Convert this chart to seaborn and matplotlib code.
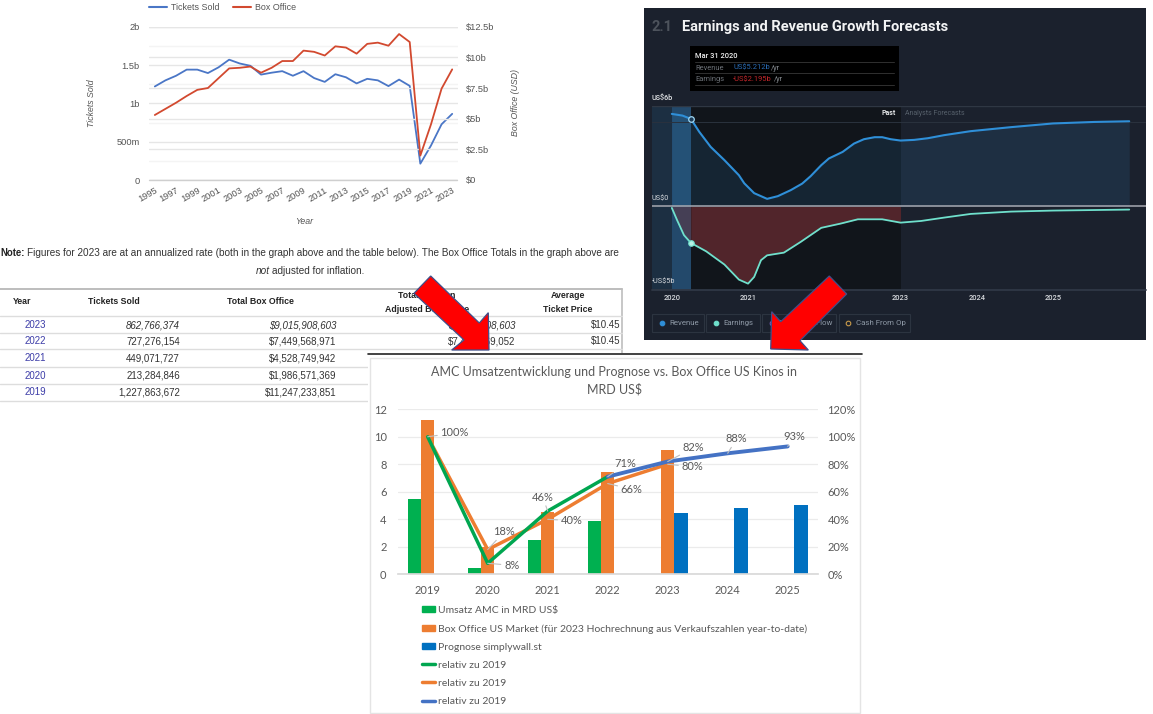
import matplotlib
matplotlib.use("Agg")
import matplotlib.pyplot as plt
import numpy as np
import pandas as pd
import seaborn as sns
from matplotlib.lines import Line2D
from matplotlib.patches import Patch, Polygon, Rectangle
from matplotlib.ticker import FuncFormatter, MultipleLocator

W, H = 1153, 714

# top left chart
ticket_years = list(range(1995, 2024))
tickets_sold = [1.22, 1.30, 1.36, 1.44, 1.44, 1.395, 1.47, 1.57, 1.52, 1.49, 1.375, 1.40, 1.42, 1.36, 1.42,
                1.33, 1.28, 1.38, 1.34, 1.26, 1.32, 1.30, 1.225, 1.31, 1.228, 0.213, 0.449, 0.727, 0.863]
box_office = [5.3, 5.8, 6.3, 6.85, 7.35, 7.5, 8.3, 9.1, 9.15, 9.25, 8.75, 9.15, 9.7, 9.7, 10.55,
              10.45, 10.15, 10.9, 10.8, 10.3, 11.1, 11.2, 10.95, 11.9, 11.25, 1.99, 4.53, 7.45, 9.02]

# table
table_years = ["2023", "2022", "2021", "2020", "2019"]
table_tickets = ["862,766,374", "727,276,154", "449,071,727", "213,284,846", "1,227,863,672"]
table_total = ["$9,015,908,603", "$7,449,568,971", "$4,528,749,942", "$1,986,571,369", "$11,247,233,851"]
table_adjusted = ["$9,015,908,603", "$7,449,569,052"]
table_price = ["$10.45", "$10.45"]

# forecast panel
rev_x = [2020.0, 2020.14, 2020.25, 2020.36, 2020.51, 2020.69, 2020.88, 2020.95, 2021.08, 2021.25, 2021.39, 2021.56,
         2021.71, 2021.82, 2021.96, 2022.06, 2022.24, 2022.39, 2022.52, 2022.66, 2022.76, 2022.87, 2023.0, 2023.18,
         2023.36, 2023.57, 2023.92, 2024.45, 2025.0, 2025.54, 2026.0]
rev_y = [5.51, 5.41, 5.21, 4.44, 3.54, 2.75, 1.85, 1.37, 0.78, 0.44, 0.6, 0.96, 1.35, 1.79, 2.45, 2.85, 3.24, 3.74,
         4.0, 4.12, 4.12, 4.0, 3.92, 3.96, 4.06, 4.24, 4.48, 4.72, 4.94, 5.03, 5.07]
earn_x = [2020.0, 2020.07, 2020.16, 2020.25, 2020.45, 2020.69, 2020.88, 2021.0, 2021.08, 2021.17, 2021.25, 2021.47,
          2021.69, 2021.96, 2022.22, 2022.44, 2022.76, 2023.0, 2023.27, 2023.57, 2023.92, 2024.45, 2025.0, 2026.0]
earn_y = [-0.1, -0.84, -1.73, -2.19, -2.69, -3.48, -4.38, -4.62, -4.22, -3.22, -2.93, -2.77, -2.13, -1.29, -1.03,
          -0.78, -0.78, -0.98, -0.88, -0.68, -0.46, -0.32, -0.26, -0.2]
panel_years = [2020, 2021, 2023, 2024, 2025]

# excel chart
amc_years = ["2019", "2020", "2021", "2022", "2023", "2024", "2025"]
umsatz_amc = [5.47, 0.45, 2.53, 3.9, np.nan, np.nan, np.nan]
box_market = [11.25, 1.99, 4.53, 7.45, 9.02, np.nan, np.nan]
prognose = [np.nan, np.nan, np.nan, np.nan, 4.45, 4.8, 5.05]
rel_amc = [100, 8, 46, 71]
rel_box = [100, 18, 40, 66, 80]
rel_prog = [71, 82, 88, 93]
bar_names = ["Umsatz AMC in MRD US$",
             "Box Office US Market (für 2023 Hochrechnung aus Verkaufszahlen year-to-date)",
             "Prognose simplywall.st"]
line_name = "relativ zu 2019"

sns.set_theme(style="white")
plt.rcParams["font.family"] = ["Liberation Sans", "DejaVu Sans"]

fig = plt.figure(figsize=(W / 100, H / 100), dpi=100, facecolor="white")


def px_axes(x0, y0, x1, y1, z):
    ax = fig.add_axes([x0 / W, 1 - y1 / H, (x1 - x0) / W, (y1 - y0) / H], zorder=z)
    ax.patch.set_visible(False)
    return ax


def overlay(z):
    ax = px_axes(0, 0, W, H, z)
    ax.set_xlim(0, W)
    ax.set_ylim(H, 0)
    ax.axis("off")
    return ax


page = overlay(0)
top = overlay(8)

# ---- top left: tickets vs box office ----
ax1 = px_axes(149.5, 26.7, 457.5, 180, 2)
sns.lineplot(x=ticket_years, y=tickets_sold, color="#4a76c6", linewidth=1.3, ax=ax1)
ax1.set_xlim(1994.5, 2023.5)
ax1.set_ylim(0, 2)
ax1.set_xticks(ticket_years[::2])
ax1.set_xticklabels(ticket_years[::2], rotation=30, ha="right", rotation_mode="anchor")
ax1.set_yticks([0, 0.5, 1, 1.5, 2], ["0", "500m", "1b", "1.5b", "2b"])
ax1.yaxis.set_minor_locator(MultipleLocator(0.25))
ax1.grid(axis="y", which="major", color="#e6e6e6", linewidth=1)
ax1.grid(axis="y", which="minor", color="#f4f4f4", linewidth=1)
ax1.tick_params(axis="both", which="both", length=0, labelsize=6.7, labelcolor="#555555", pad=7)
ax1.tick_params(axis="x", pad=4)
ax1.set_xlabel("Year", fontsize=6.3, style="italic", color="#555555")
ax1.set_ylabel("Tickets Sold", fontsize=6.3, style="italic", color="#555555", va="center")
ax1.xaxis.set_label_coords(304, 216.5, transform=page.transData)
ax1.yaxis.set_label_coords(92, 102.7, transform=page.transData)
for s in ax1.spines.values():
    s.set_visible(False)

ax1b = ax1.twinx()
ax1b.patch.set_visible(False)
sns.lineplot(x=ticket_years, y=box_office, color="#d2492f", linewidth=1.3, ax=ax1b)
ax1b.set_ylim(0, 12.5)
ax1b.set_yticks([0, 2.5, 5, 7.5, 10, 12.5], ["$0", "$2.5b", "$5b", "$7.5b", "$10b", "$12.5b"])
ax1b.grid(axis="y", color="#e6e6e6", linewidth=1)
ax1b.set_axisbelow(True)
ax1b.tick_params(axis="y", length=0, labelsize=6.7, labelcolor="#555555", pad=6)
ax1b.set_ylabel("Box Office (USD)", fontsize=6.3, style="italic", color="#555555", va="center")
ax1b.yaxis.set_label_coords(515, 103, transform=page.transData)
for s in ax1b.spines.values():
    s.set_visible(False)
ax1.plot([1994.5, 2023.5], [0, 0], color="#cfcfcf", linewidth=1, clip_on=False)
leg1 = top.legend(handles=[Line2D([], [], color="#4a76c6", linewidth=1.5, label="Tickets Sold"),
                           Line2D([], [], color="#d2492f", linewidth=1.5, label="Box Office")],
                  loc="center left", bbox_to_anchor=(149.3 / W, 1 - 7.3 / H), bbox_transform=fig.transFigure,
                  ncol=2, frameon=False, fontsize=6.4, labelcolor="#555555", borderpad=0, borderaxespad=0,
                  handlelength=1.95, handletextpad=0.45, columnspacing=1.6)
top.add_artist(leg1)

# ---- note and table ----
page.text(0, 253, "Note:", fontsize=6.9, fontweight="bold", color="#222222", va="center")
page.text(27.3, 253, "Figures for 2023 are at an annualized rate (both in the graph above and the table below). "
          "The Box Office Totals in the graph above are", fontsize=7.2, color="#333333", va="center")
page.text(255.4, 271, "not", fontsize=7.2, style="italic", color="#333333", va="center")
page.text(272, 271, "adjusted for inflation.", fontsize=7.2, color="#333333", va="center")

row_lines = [316, 332.7, 349.3, 366.7, 384, 400.7]
row_text = [325, 341.3, 358.3, 375.7, 392.3]
page.plot([0, 622], [289.3, 289.3], color="#bdbdbd", linewidth=1.4)
page.plot([622, 622], [289.3, 353], color="#bdbdbd", linewidth=1.2)
for y in row_lines:
    page.plot([0, 622], [y, y], color="#dddddd", linewidth=1)
for label, cx in [("Year", 22.5), ("Tickets Sold", 114), ("Total Box Office", 260)]:
    page.text(cx, 301.7, label, fontsize=6.3, fontweight="bold", ha="center", va="center", color="#222222")
for label, cx, y in [("Total Inflation", 427, 295), ("Adjusted Box Office", 427, 309.3),
                     ("Average", 568, 295), ("Ticket Price", 568, 309.3)]:
    page.text(cx, y, label, fontsize=6.3, fontweight="bold", ha="center", va="center", color="#222222")
for i, y in enumerate(row_text):
    st = "italic" if i == 0 else "normal"
    page.text(46, y, table_years[i], fontsize=7, color="#3d3da8", ha="right", va="center")
    page.text(180, y, table_tickets[i], fontsize=7, style=st, color="#333333", ha="right", va="center")
    page.text(336.5, y, table_total[i], fontsize=7, style=st, color="#333333", ha="right", va="center")
for i, y in enumerate(row_text[:2]):
    st = "italic" if i == 0 else "normal"
    page.text(515, y, table_adjusted[i], fontsize=7, style=st, color="#333333", ha="right", va="center")
    page.text(620, y, table_price[i], fontsize=7, color="#333333", ha="right", va="center")

# white sheet of the excel chart hides the rest of the table
page.add_patch(Rectangle((368, 353), 494, 361, facecolor="white", edgecolor="none", zorder=5))
page.plot([368, 862], [353.5, 353.5], color="#222222", linewidth=1.2, zorder=6)
page.add_patch(Rectangle((370, 358), 490, 354.7, facecolor="white", edgecolor="#e4e4e4", linewidth=1, zorder=6))

# ---- dark forecast panel ----
page.add_patch(Rectangle((644, 8), 502, 332, facecolor="#1b212d", edgecolor="none", zorder=7))
ax2 = px_axes(652, 105.7, 1146, 290, 3)
ax2.set_xlim(2019.74, 2026.22)
ax2.set_ylim(-5, 6)
ax2.axvspan(2020.25, 2023, color="#11151b", linewidth=0, zorder=0)
ax2.axvspan(2019.74, 2020, color="#1c2f42", linewidth=0, zorder=0)
ax2.axvspan(2020, 2020.25, color="#23496b", linewidth=0, zorder=0)
ax2.fill_between(rev_x, 0, rev_y, color="#2f7db5", alpha=0.16, linewidth=0, zorder=1)
ex, ey = np.array(earn_x), np.array(earn_y)
mask = (ex >= 2020.25) & (ex <= 2023)
ax2.fill_between(ex[mask], 0, ey[mask], color="#7a3035", alpha=0.62, linewidth=0, zorder=1)
ax2.fill_between(ex[ex <= 2020.25], 0, ey[ex <= 2020.25], color="#7a3035", alpha=0.4, linewidth=0, zorder=1)
sns.lineplot(x=rev_x, y=rev_y, color="#2f8fd8", linewidth=1.5, ax=ax2, zorder=3)
sns.lineplot(x=earn_x, y=earn_y, color="#6fe0cc", linewidth=1.3, ax=ax2, zorder=3)
ax2.plot([2020.25], [5.212], "o", ms=4, mfc="#1d3c58", mec="#9fd8f5", mew=0.9, zorder=4)
ax2.plot([2020.25], [-2.195], "o", ms=4, mfc="#b9f2e6", mec="#6fe0cc", mew=0.8, zorder=4)
ax2.axhline(0, color="#a7a9b2", linewidth=1.1, zorder=2)
ax2.axhline(5, color="#2a323e", linewidth=0.7, zorder=2)
ax2.axhline(6, color="#2f3743", linewidth=1, zorder=2)
ax2.axhline(-5, color="#303846", linewidth=1.3, zorder=2, clip_on=False)
ax2.set_yticks([])
ax2.set_xticks(panel_years, [str(y) for y in panel_years])
ax2.tick_params(axis="x", length=0, labelsize=5.4, labelcolor="#d6d9dd", pad=3)
for lbl in ax2.get_xticklabels():
    lbl.set_family("Roboto")
    lbl.set_fontweight("medium")
for s in ax2.spines.values():
    s.set_visible(False)

panel_font = {"family": "Roboto", "va": "center"}
top.text(651.3, 26.7, "2.1", fontsize=10.5, fontweight="bold", color="#4d535c", **panel_font)
top.text(682.3, 26.7, "Earnings and Revenue Growth Forecasts", fontsize=10.5, fontweight="bold", color="#f2f3f4", **panel_font)
top.add_patch(Rectangle((690, 46), 209, 45, facecolor="black", edgecolor="none"))
for y in [62.3, 73.3, 85]:
    top.plot([695, 893.5], [y, y], color="#303030", linewidth=0.7)
top.text(695.3, 56, "Mar 31 2020", fontsize=5.4, color="#f0f0f0", fontweight="medium", **panel_font)
top.text(695.3, 68.3, "Revenue", fontsize=5.4, color="#6d7278", **panel_font)
top.text(733.3, 68.3, "US$5.212b", fontsize=5.4, color="#2a6cb5", **panel_font)
top.text(771, 68.3, "/yr", fontsize=5.4, color="#8a8f95", **panel_font)
top.text(695.3, 79.7, "Earnings", fontsize=5.4, color="#6d7278", **panel_font)
top.text(733.3, 79.7, "-US$2.195b", fontsize=5.4, color="#c4272b", **panel_font)
top.text(774, 79.7, "/yr", fontsize=5.4, color="#8a8f95", **panel_font)
top.text(651.5, 99, "US$6b", fontsize=5.2, color="#e4e6e8", fontweight="medium", **panel_font)
top.text(651.5, 199, "US$0", fontsize=5.2, color="#d6d9dd", **panel_font)
top.text(651.5, 282.3, "-US$5b", fontsize=5.2, color="#d6d9dd", **panel_font)
top.text(895.3, 113.3, "Past", fontsize=5, color="#e4e6e8", fontweight="bold", ha="right", **panel_font)
top.text(905, 113.3, "Analysts Forecasts", fontsize=5, color="#56606b", **panel_font)

buttons = [(652, 704, "Revenue", "#2f8fd8", True), (706.3, 759.7, "Earnings", "#6fe0cc", True),
           (762.3, 836, "Free Cash Flow", "#7a5fc0", False), (838.7, 909.7, "Cash From Op", "#c89a4a", False)]
for x0, x1, label, c, filled in buttons:
    top.add_patch(Rectangle((x0, 314.3), x1 - x0, 17.4, facecolor="none", edgecolor="#2c3440", linewidth=0.8))
    top.plot([x0 + 9.7], [323], "o", ms=3.3, mfc=c if filled else "none", mec=c, mew=0.8)
    top.text(x0 + 17, 323, label, fontsize=5.7, color="#8d98a5", **panel_font)

# ---- excel chart ----
excel_font = "Lato"
ax3 = px_axes(397.7, 409.3, 817.7, 574.3, 4)
df = pd.DataFrame({"year": amc_years * 3,
                   "value": umsatz_amc + box_market + prognose,
                   "series": [n for n in bar_names for _ in amc_years]})
bar_colors = ["#00b050", "#ed7d31", "#0070c0"]
sns.barplot(data=df, x="year", y="value", hue="series", order=amc_years, hue_order=bar_names,
            palette=bar_colors, width=0.66, gap=0, saturation=1, errorbar=None, legend=False,
            linewidth=0, ax=ax3)
ax3.set_xlim(-0.5, 6.5)
ax3.set_ylim(0, 12)
ax3.set_yticks(range(0, 13, 2))
ax3.grid(axis="y", color="#ebebeb", linewidth=0.9)
ax3.set_axisbelow(True)
ax3.set_xlabel("")
ax3.set_ylabel("")
ax3.tick_params(axis="both", length=0, labelsize=8, labelcolor="#595959")
ax3.tick_params(axis="x", pad=8)
ax3.tick_params(axis="y", pad=8)
for lbl in ax3.get_xticklabels() + ax3.get_yticklabels():
    lbl.set_family(excel_font)
for s in ["top", "left", "right"]:
    ax3.spines[s].set_visible(False)
ax3.spines["bottom"].set_color("#d9d9d9")

ax3b = ax3.twinx()
ax3b.patch.set_visible(False)
sns.lineplot(x=range(len(rel_box)), y=rel_box, color="#ed7d31", linewidth=2.5, ax=ax3b, zorder=3)
sns.lineplot(x=range(len(rel_amc)), y=rel_amc, color="#00a650", linewidth=2.5, ax=ax3b, zorder=4)
sns.lineplot(x=range(3, 3 + len(rel_prog)), y=rel_prog, color="#4472c4", linewidth=2.8, ax=ax3b, zorder=5)
ax3b.set_ylim(0, 120)
ax3b.set_xlim(-0.5, 6.5)
ax3b.set_yticks(range(0, 121, 20))
ax3b.yaxis.set_major_formatter(FuncFormatter(lambda v, _: f"{v:.0f}%"))
ax3b.set_ylabel("")
ax3b.tick_params(axis="y", length=0, labelsize=8, labelcolor="#595959", pad=7)
for lbl in ax3b.get_yticklabels():
    lbl.set_family(excel_font)
for s in ax3b.spines.values():
    s.set_visible(False)

# offsets of the data labels, in pixels from their point
amc_offsets = [(27, 4), (24, -2), (-5, 14), (18, 12.7)]
box_offsets = [None, (16.7, 18), (24, -1.3), (24, -5.7), (24.7, -2.3)]
prog_offsets = [None, (26, 14), (9, 14.7), (6.3, 10.3)]
for start, values, offsets in [(0, rel_amc, amc_offsets), (0, rel_box, box_offsets), (3, rel_prog, prog_offsets)]:
    for i, (v, off) in enumerate(zip(values, offsets)):
        if off is None:
            continue
        ax3b.annotate(f"{v}%", (start + i, v), xytext=off, textcoords="offset pixels", ha="center", va="center",
                      fontsize=8, color="#595959", family=excel_font, zorder=6,
                      arrowprops=dict(arrowstyle="-", color="#bfbfbf", linewidth=0.8, shrinkA=0, shrinkB=0))

top.text(614.3, 381, "AMC Umsatzentwicklung und Prognose vs. Box Office US Kinos in\nMRD US$", fontsize=9,
         color="#595959", family=excel_font, ha="center", va="center", linespacing=1.5)

handles = [Patch(color=c, label=n) for c, n in zip(bar_colors, bar_names)]
handles += [Line2D([], [], color=c, linewidth=2.5, label=line_name) for c in ["#00a650", "#ed7d31", "#4472c4"]]
top.legend(handles=handles, loc="upper left", bbox_to_anchor=(422 / W, 1 - 606 / H),
           bbox_transform=fig.transFigure, frameon=False, ncol=1, borderpad=0, borderaxespad=0,
           prop={"family": excel_font, "size": 7.5}, labelcolor="#595959", handlelength=1.25,
           handleheight=0.5, handletextpad=0.25, labelspacing=0.87)

# ---- red arrows ----
arrow_left = [(430.7, 276), (479.3, 323), (488.3, 312.7), (489, 350), (451.7, 350), (464, 340), (414, 293.3)]
arrow_right = [(829.3, 276), (846.7, 294), (800, 340.7), (808.3, 350), (770.7, 349), (771.7, 311.7), (780.7, 321.7)]
for pts in [arrow_left, arrow_right]:
    top.add_patch(Polygon(pts, closed=True, facecolor="#ff0000", edgecolor="#3f4f8a", linewidth=0.9, zorder=10))

top.set_xlim(0, W)
top.set_ylim(H, 0)
page.set_xlim(0, W)
page.set_ylim(H, 0)
fig.savefig("out.png", dpi=100)
